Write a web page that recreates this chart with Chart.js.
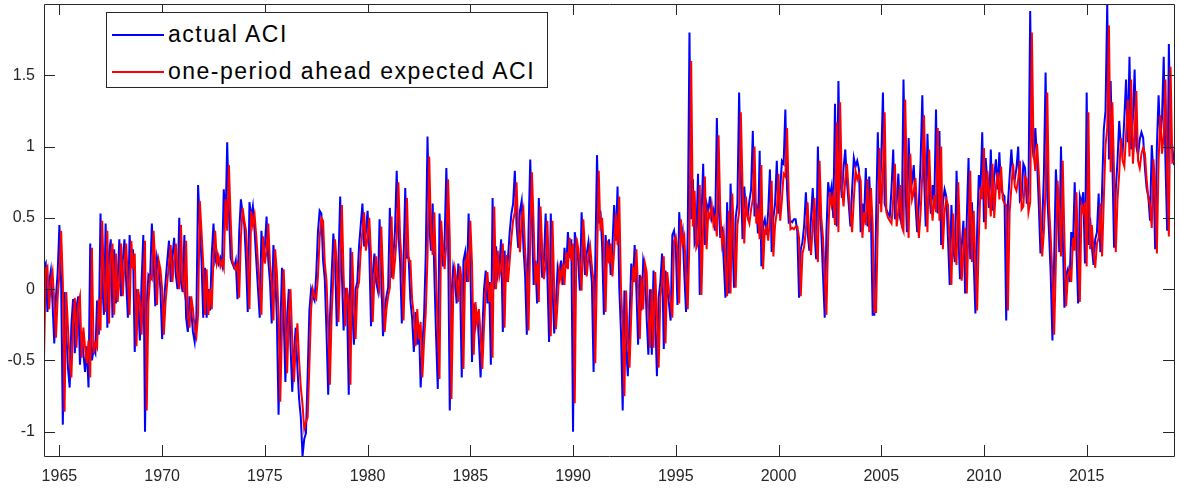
<!DOCTYPE html>
<html>
<head>
<meta charset="utf-8">
<title>ACI</title>
<script src="https://cdn.jsdelivr.net/npm/chart.js@4.4.1/dist/chart.umd.min.js"></script>
<style>
    html, body { margin: 0; padding: 0; background: #fff; }
    #wrap { position: relative; width: 1179px; height: 491px; }
    #legend {
        position: absolute; left: 106px; top: 12px; width: 442px; height: 76px;
        box-sizing: border-box; border: 1px solid #262626; background: #fff;
        font-family: 'Liberation Sans', Arial, sans-serif; font-size: 23px; color: #000;
        letter-spacing: 1.5px;
    }
    #legend .row { position: absolute; left: 5px; height: 30px; line-height: 30px; white-space: nowrap; }
    #legend .swatch { display: inline-block; width: 52px; height: 2px; vertical-align: middle; margin-right: 4px; position: relative; top: -1px; }
</style>
</head>
<body>
<div id="wrap">
    <canvas id="aciChart" width="1179" height="491"></canvas>
    <div id="legend">
        <div class="row" style="top:6px"><span class="swatch" style="background:#0000ff"></span>actual ACI</div>
        <div class="row" style="top:43px"><span class="swatch" style="background:#ff0000"></span>one-period ahead expected ACI</div>
    </div>
</div>
<script>
// monthly data, first month = April 1964
const startYear = 1964;
const startMonth = 4;

const actualAci = [
    0.15, 0.18, -0.16, 0.05, 0.13, -0.10, -0.38, -0.05, 0.12,                   // 1964
    0.45, 0.05, -0.95, -0.02, -0.30, -0.55, -0.69, -0.25, -0.07, -0.45, -0.12, -0.05, // 1965
    -0.53, -0.30, -0.45, -0.58, -0.40, -0.69, 0.32, -0.50, -0.42, -0.45, -0.08, -0.32,
    0.53, 0.05, -0.18, 0.46, -0.27, 0.25, 0.35, -0.20, 0.28, -0.10, 0.05, 0.35,
    -0.05, 0.20, 0.35, 0.05, -0.20, 0.38, 0.15, 0.28, -0.44, 0.00, -0.10, -0.36,
    0.05, 0.38, -1.00, -0.10, 0.10, 0.08, 0.46, 0.20, -0.12, 0.22, 0.15, 0.00,
    -0.35, -0.10, 0.05, 0.20, 0.34, 0.05, 0.22, 0.36, 0.10, 0.00, 0.50, 0.05,   // 1970
    -0.02, 0.38, -0.20, -0.30, -0.05, -0.15, -0.30, -0.37, -0.20, 0.73, 0.45, 0.20,
    -0.20, 0.15, -0.20, 0.00, -0.15, 0.25, 0.46, 0.20, 0.25, 0.18, 0.22, 0.17,
    0.70, 0.45, 1.03, 0.55, 0.22, 0.18, 0.15, 0.20, -0.07, 0.40, 0.63, 0.53,
    0.45, 0.20, -0.16, 0.61, 0.50, 0.58, 0.41, 0.20, 0.00, -0.20, 0.41, 0.20,
    0.30, 0.51, 0.20, 0.05, -0.24, 0.31, 0.13, -0.20, -0.88, -0.30, 0.15, -0.20, // 1975
    -0.65, -0.20, 0.00, -0.40, -0.72, -0.45, -0.27, -0.55, -0.77, -0.90, -1.17, -1.05,
    -1.01, -0.60, -0.15, 0.00, -0.05, -0.08, 0.10, 0.40, 0.55, 0.53, 0.20, 0.07,
    -0.30, -0.74, -0.20, 0.10, 0.39, 0.20, -0.26, 0.20, 0.65, 0.10, -0.29, 0.01,
    -0.10, -0.74, 0.29, -0.10, -0.39, 0.00, 0.05, 0.30, 0.45, 0.60, 0.30, 0.40,
    0.55, 0.27, -0.26, 0.10, 0.25, 0.05, -0.01, 0.49, 0.10, -0.33, -0.15, -0.05, // 1980
    0.01, 0.57, 0.08, 0.22, 0.41, 0.83, 0.40, 0.19, -0.24, 0.20, 0.71, 0.22,
    0.22, -0.08, -0.20, -0.44, -0.16, -0.39, -0.25, -0.69, -0.40, -0.18, 0.25, 1.07,
    0.45, 0.27, 0.60, 0.10, -0.33, -0.70, 0.53, 0.30, 0.16, 0.35, 0.85, 0.40,
    -0.85, -0.04, 0.15, 0.07, -0.10, 0.18, 0.05, -0.62, 0.20, 0.26, 0.05, 0.53,
    0.20, -0.51, -0.10, -0.25, -0.16, -0.35, -0.62, -0.30, 0.00, 0.13, -0.10, 0.05, // 1985
    -0.53, 0.64, 0.00, 0.30, 0.10, 0.17, 0.35, -0.30, 0.27, 0.05, 0.22, 0.40,
    0.53, 0.60, 0.83, 0.45, 0.29, 0.55, 0.62, 0.30, 0.10, -0.32, 0.40, 0.91,
    0.50, 0.03, 0.20, -0.10, 0.64, 0.30, 0.08, 0.20, 0.53, 0.10, -0.37, 0.53,
    0.01, -0.31, -0.10, 0.15, 0.08, 0.20, 0.03, 0.29, 0.15, 0.40, 0.22, 0.35,
    -1.00, 0.40, 0.32, 0.20, -0.01, 0.54, 0.30, 0.10, 0.25, 0.33, 0.18, 0.05,  // 1990
    -0.58, 0.20, 0.94, 0.46, 0.55, 0.30, -0.18, 0.38, 0.20, 0.35, 0.10, 0.30,
    0.59, 0.34, 0.72, 0.01, -0.30, -0.85, -0.01, -0.40, -0.61, -0.20, 0.18, 0.05,
    0.31, 0.00, -0.39, 0.10, -0.15, 0.20, 0.13, -0.20, -0.46, 0.00, -0.46, 0.13,
    -0.20, -0.61, -0.06, 0.05, 0.25, -0.42, 0.13, 0.00, -0.10, -0.22, 0.38, 0.41,
    0.30, -0.11, 0.54, 0.35, 0.41, 0.10, -0.16, 0.40, 1.80, 0.49, 0.77, 0.32,   // 1995
    0.36, 0.81, -0.04, 0.50, 0.88, 0.31, 0.60, 0.55, 0.65, 0.50, 0.55, 0.41,
    1.20, 0.60, 0.36, 0.44, 0.20, -0.06, 0.61, -0.03, 0.74, 0.40, 0.01, 0.50,
    0.60, 1.38, 0.80, 0.35, 0.72, 0.55, 0.51, 0.62, 0.70, 1.11, 0.51, 0.60,
    0.39, 0.97, 0.16, 0.45, 0.49, 0.38, 0.55, 0.84, 0.26, 0.50, 0.60, 0.90,
    0.53, 0.70, 0.90, 0.88, 1.26, 0.70, 0.47, 0.48, 0.47, 0.49, 0.49, 0.40,    // 2000
    -0.06, 0.28, 0.33, 0.45, 0.68, 0.40, 0.27, 0.50, 0.71, 0.40, 0.21, 1.00,
    0.55, 0.40, 0.10, -0.20, 0.40, 0.75, 0.65, 0.72, 0.50, 1.30, 0.44, 1.46,
    0.80, 0.64, 0.85, 0.98, 0.75, 0.60, 0.44, 0.70, 0.92, 0.86, 0.90, 0.84,
    0.40, 0.60, 0.50, 0.85, 0.44, 0.79, 0.50, -0.18, -0.18, 0.50, 1.10, 0.60,
    0.90, 1.38, 0.60, 0.56, 0.53, 0.51, 0.70, 0.98, 0.49, 0.60, 0.81, 0.50,    // 2005
    0.45, 1.47, 0.80, 0.40, 1.06, 0.70, 0.75, 0.87, 0.60, 0.40, 0.60, 0.90,
    1.36, 0.80, 0.44, 1.09, 0.70, 0.53, 0.73, 0.60, 1.26, 0.53, 1.11, 0.31,
    0.60, 0.70, 0.65, 0.35, 0.03, 0.59, 0.30, 0.19, 0.83, 0.40, 0.07, 0.30,
    0.48, -0.03, 0.50, 0.92, 0.21, 0.61, 0.20, -0.17, 0.40, 0.80, 0.70, 1.10,
    0.47, 0.92, 0.75, 0.57, 0.98, 0.55, 0.80, 0.91, 0.70, 0.96, 0.70, 0.67,    // 2010
    0.65, -0.22, 0.60, 0.79, 0.98, 0.80, 0.77, 0.85, 1.00, 0.62, 0.64, 0.88,
    0.85, 0.60, 0.68, 1.95, 1.05, 0.92, 1.13, 0.91, 0.60, 0.25, 0.44, 0.80,
    1.52, 0.65, 0.40, 0.10, -0.36, 0.20, 0.84, 0.60, 0.26, 1.00, 0.40, -0.13,
    0.10, 0.14, 0.05, 0.40, 0.30, 0.75, 0.30, -0.10, 0.65, 0.60, 0.68, 0.18,
    1.38, 0.31, 0.50, 0.30, 0.17, 0.35, 0.40, 0.67, 0.26, 0.70, 1.12, 1.25,    // 2015
    2.00, 0.91, 1.46, 0.90, 0.29, 0.70, 0.90, 1.18, 1.00, 0.96, 1.20, 1.47,
    1.03, 1.63, 0.98, 1.20, 1.54, 1.00, 0.94, 1.05, 1.10, 1.06, 0.85, 0.71,
    0.65, 0.48, 1.01, 0.80, 0.28, 1.00, 1.36, 1.05, 1.20, 1.63, 0.90, 0.41,
    1.72, 0.99, 1.00, 0.87                                                      // 2019
];

const expectedAci = [
    -0.49, 0.14, 0.16, -0.14, 0.05, 0.12, -0.09, -0.34, -0.05,                 // 1964
    0.11, 0.41, 0.05, -0.86, -0.02, -0.27, -0.50, -0.62, -0.23, -0.06, -0.41, -0.11, // 1965
    -0.05, -0.48, -0.27, -0.41, -0.52, -0.36, -0.62, 0.29, -0.45, -0.38, -0.41, -0.07,
    -0.29, 0.48, 0.05, -0.16, 0.41, -0.24, 0.23, 0.32, -0.18, 0.25, -0.09, 0.05,
    0.32, -0.05, 0.18, 0.32, 0.05, -0.18, 0.34, 0.14, 0.25, -0.40, 0.00, -0.09,
    -0.32, 0.05, 0.34, -0.85, -0.09, 0.09, 0.07, 0.41, 0.18, -0.11, 0.20, 0.14,
    0.00, -0.32, -0.09, 0.05, 0.18, 0.31, 0.05, 0.20, 0.32, 0.09, 0.00, 0.45,  // 1970
    0.05, -0.02, 0.34, -0.18, -0.27, -0.05, -0.14, -0.27, -0.33, -0.18, 0.62, 0.41,
    0.18, -0.18, 0.14, -0.18, 0.00, -0.14, 0.23, 0.41, 0.18, 0.23, 0.16, 0.20,
    0.15, 0.63, 0.41, 0.87, 0.50, 0.20, 0.16, 0.14, 0.18, -0.06, 0.36, 0.57,
    0.48, 0.41, 0.18, -0.14, 0.55, 0.45, 0.52, 0.37, 0.18, 0.00, -0.18, 0.37,
    0.18, 0.27, 0.46, 0.18, 0.05, -0.22, 0.28, 0.12, -0.18, -0.79, -0.27, 0.14, // 1975
    -0.18, -0.59, -0.18, 0.00, -0.36, -0.65, -0.41, -0.24, -0.50, -0.69, -0.81, -0.98,
    -0.93, -0.90, -0.54, -0.14, 0.00, -0.05, -0.07, 0.09, 0.36, 0.50, 0.48, 0.18,
    0.06, -0.27, -0.67, -0.18, 0.09, 0.35, 0.18, -0.23, 0.18, 0.59, 0.09, -0.26,
    0.01, -0.09, -0.67, 0.26, -0.09, -0.35, 0.00, 0.05, 0.27, 0.41, 0.54, 0.27,
    0.36, 0.50, 0.24, -0.23, 0.09, 0.23, 0.05, -0.01, 0.44, 0.09, -0.30, -0.14, // 1980
    -0.05, 0.01, 0.51, 0.07, 0.20, 0.37, 0.75, 0.36, 0.17, -0.22, 0.18, 0.64,
    0.20, 0.20, -0.07, -0.18, -0.40, -0.14, -0.35, -0.23, -0.62, -0.36, -0.16, 0.23,
    0.93, 0.41, 0.24, 0.54, 0.09, -0.30, -0.63, 0.48, 0.27, 0.14, 0.32, 0.77,
    0.36, -0.77, -0.04, 0.14, 0.06, -0.09, 0.16, 0.05, -0.56, 0.18, 0.23, 0.05,
    0.48, 0.18, -0.46, -0.09, -0.23, -0.14, -0.32, -0.56, -0.27, 0.00, 0.12, -0.09, // 1985
    0.05, -0.48, 0.58, 0.00, 0.27, 0.09, 0.15, 0.32, -0.27, 0.24, 0.05, 0.20,
    0.36, 0.48, 0.54, 0.75, 0.41, 0.26, 0.50, 0.56, 0.27, 0.09, -0.29, 0.36,
    0.82, 0.45, 0.03, 0.18, -0.09, 0.58, 0.27, 0.07, 0.18, 0.48, 0.09, -0.33,
    0.48, 0.01, -0.28, -0.09, 0.14, 0.07, 0.18, 0.03, 0.26, 0.14, 0.36, 0.20,
    0.32, -0.80, 0.36, 0.29, 0.18, -0.01, 0.49, 0.27, 0.09, 0.23, 0.30, 0.16,  // 1990
    0.05, -0.52, 0.18, 0.83, 0.41, 0.50, 0.27, -0.16, 0.34, 0.18, 0.32, 0.09,
    0.27, 0.53, 0.31, 0.65, 0.01, -0.27, -0.75, -0.01, -0.36, -0.55, -0.18, 0.16,
    0.05, 0.28, 0.00, -0.35, 0.09, -0.14, 0.18, 0.12, -0.18, -0.41, 0.00, -0.41,
    0.12, -0.18, -0.55, -0.05, 0.05, 0.23, -0.38, 0.12, 0.00, -0.09, -0.20, 0.34,
    0.37, 0.27, -0.10, 0.49, 0.32, 0.37, 0.09, -0.14, 0.36, 1.60, 0.44, 0.69,  // 1995
    0.29, 0.32, 0.73, -0.04, 0.45, 0.79, 0.28, 0.54, 0.50, 0.59, 0.45, 0.50,
    0.37, 1.08, 0.54, 0.32, 0.40, 0.18, -0.05, 0.55, -0.03, 0.67, 0.36, 0.01,
    0.45, 0.54, 1.24, 0.72, 0.32, 0.65, 0.50, 0.46, 0.56, 0.63, 1.00, 0.46,
    0.54, 0.35, 0.87, 0.14, 0.41, 0.44, 0.34, 0.50, 0.76, 0.23, 0.45, 0.54,
    0.81, 0.48, 0.63, 0.81, 0.79, 1.13, 0.63, 0.42, 0.43, 0.42, 0.44, 0.44,    // 2000
    0.36, -0.05, 0.25, 0.30, 0.41, 0.61, 0.36, 0.24, 0.45, 0.64, 0.36, 0.19,
    0.90, 0.50, 0.36, 0.09, -0.18, 0.36, 0.68, 0.59, 0.65, 0.45, 1.17, 0.40,
    1.31, 0.72, 0.58, 0.77, 0.88, 0.68, 0.54, 0.40, 0.63, 0.83, 0.77, 0.81,
    0.76, 0.36, 0.54, 0.45, 0.77, 0.40, 0.71, 0.45, -0.16, -0.16, 0.45, 0.99,
    0.54, 0.81, 1.24, 0.54, 0.50, 0.48, 0.46, 0.63, 0.88, 0.44, 0.54, 0.73,    // 2005
    0.45, 0.41, 1.33, 0.72, 0.36, 0.95, 0.63, 0.68, 0.78, 0.54, 0.36, 0.54,
    0.81, 1.22, 0.72, 0.40, 0.98, 0.63, 0.48, 0.66, 0.54, 1.13, 0.48, 1.00,
    0.28, 0.54, 0.63, 0.59, 0.32, 0.03, 0.53, 0.27, 0.17, 0.75, 0.36, 0.06,
    0.27, 0.43, -0.03, 0.45, 0.83, 0.19, 0.55, 0.18, -0.15, 0.36, 0.72, 0.63,
    0.99, 0.42, 0.83, 0.68, 0.51, 0.88, 0.50, 0.72, 0.82, 0.63, 0.86, 0.63,    // 2010
    0.60, 0.59, -0.15, 0.54, 0.71, 0.88, 0.72, 0.69, 0.77, 0.90, 0.56, 0.58,
    0.79, 0.77, 0.54, 0.61, 1.80, 0.95, 0.83, 1.02, 0.82, 0.54, 0.23, 0.40,
    0.72, 1.38, 0.59, 0.36, 0.09, -0.32, 0.18, 0.76, 0.54, 0.23, 0.90, 0.36,
    -0.12, 0.09, 0.13, 0.05, 0.36, 0.27, 0.68, 0.27, -0.09, 0.59, 0.54, 0.61,
    0.16, 1.24, 0.28, 0.45, 0.27, 0.15, 0.32, 0.36, 0.60, 0.23, 0.63, 1.01,    // 2015
    1.13, 1.85, 0.82, 1.31, 0.81, 0.26, 0.63, 0.81, 1.06, 0.90, 0.86, 1.08,
    1.33, 0.93, 1.47, 0.88, 1.08, 1.39, 0.90, 0.85, 0.95, 0.99, 0.95, 0.77,
    0.64, 0.59, 0.43, 0.91, 0.72, 0.25, 0.90, 1.22, 0.95, 1.08, 1.47, 0.81,
    0.37, 1.56, 0.89, 0.90                                                      // 2019
];

const xTickYears = [1965, 1970, 1975, 1980, 1985, 1990, 1995, 2000, 2005, 2010, 2015];
const yTickValues = [-1, -0.5, 0, 0.5, 1, 1.5];

const axisColor = '#262626';
const tickFont = { family: "'Liberation Sans', Arial, sans-serif", size: 16 };

// decimal year of each month
function monthTime(i) {
    return startYear + (startMonth - 1 + i) / 12;
}

const bluePoints = actualAci.map((v, i) => ({ x: monthTime(i), y: v }));
const redPoints = expectedAci.map((v, i) => ({ x: monthTime(i), y: v }));

// box around the axes with inward ticks on all four sides
const boxPlugin = {
    id: 'matlabBox',
    afterDraw(chart) {
        const { ctx, chartArea: a, scales } = chart;
        const len = 11;
        ctx.save();
        ctx.strokeStyle = axisColor;
        ctx.lineWidth = 1;
        ctx.beginPath();
        ctx.rect(Math.round(a.left) + 0.5, Math.round(a.top) + 0.5,
                 Math.round(a.right - a.left), Math.round(a.bottom - a.top));
        xTickYears.forEach(yr => {
            const px = Math.round(scales.x.getPixelForValue(yr)) + 0.5;
            ctx.moveTo(px, a.bottom); ctx.lineTo(px, a.bottom - len);
            ctx.moveTo(px, a.top); ctx.lineTo(px, a.top + len);
        });
        yTickValues.forEach(v => {
            const py = Math.round(scales.y.getPixelForValue(v)) + 0.5;
            ctx.moveTo(a.left, py); ctx.lineTo(a.left + len, py);
            ctx.moveTo(a.right, py); ctx.lineTo(a.right - len, py);
        });
        ctx.stroke();
        ctx.restore();
    }
};

new Chart(document.getElementById('aciChart'), {
    type: 'line',
    data: {
        datasets: [
            {
                label: 'actual ACI',
                data: bluePoints,
                borderColor: '#0000ff',
                borderWidth: 2,
                pointRadius: 0,
                tension: 0,
                order: 1
            },
            {
                label: 'one-period ahead expected ACI',
                data: redPoints,
                borderColor: '#ff0000',
                borderWidth: 2,
                pointRadius: 0,
                tension: 0,
                order: 0
            }
        ]
    },
    options: {
        responsive: false,
        animation: false,
        devicePixelRatio: 1,
        parsing: false,
        layout: { padding: { left: 0, right: 5, top: 4, bottom: 0 } },
        plugins: {
            legend: { display: false },
            tooltip: { enabled: false }
        },
        scales: {
            x: {
                type: 'linear',
                min: 1964.25,
                max: 2019.25,
                grid: { display: false, drawTicks: false },
                border: { display: false },
                afterFit: scale => {
                    scale.height = 35;
                    scale.paddingLeft = 0;
                    scale.paddingRight = 0;
                },
                afterBuildTicks: scale => { scale.ticks = xTickYears.map(v => ({ value: v })); },
                ticks: {
                    color: axisColor,
                    font: tickFont,
                    padding: 11,
                    maxRotation: 0,
                    autoSkip: false,
                    callback: v => String(v)
                }
            },
            y: {
                min: -1.17,
                max: 2.0,
                grid: { display: false, drawTicks: false },
                border: { display: false },
                afterFit: scale => {
                    scale.width = 44;
                    scale.paddingTop = 0;
                    scale.paddingBottom = 0;
                },
                afterBuildTicks: scale => { scale.ticks = yTickValues.map(v => ({ value: v })); },
                ticks: {
                    color: axisColor,
                    font: tickFont,
                    padding: 9,
                    autoSkip: false,
                    callback: v => String(v)
                }
            }
        }
    },
    plugins: [boxPlugin]
});
</script>
</body>
</html>
